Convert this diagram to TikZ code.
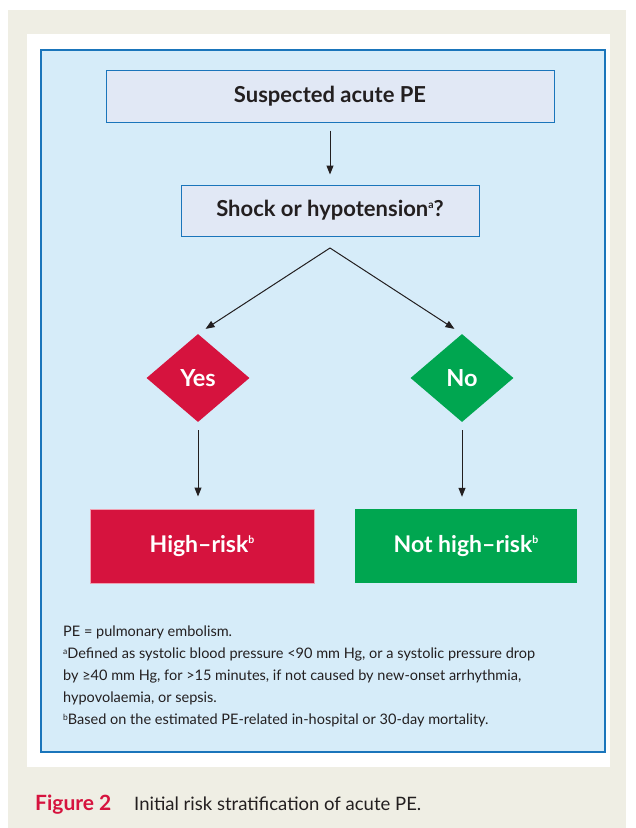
\documentclass[tikz,border=0pt]{standalone}
\usepackage{fontspec}
\setmainfont{Lato}
\usetikzlibrary{shapes.geometric,arrows.meta}
\definecolor{beige}{HTML}{EFEEE4}
\definecolor{panelblue}{HTML}{D6ECF9}
\definecolor{boxfill}{HTML}{E1E8F5}
\definecolor{edgeblue}{HTML}{1A75BB}
\definecolor{riskred}{HTML}{D6133E}
\definecolor{riskgreen}{HTML}{00A650}
\definecolor{ink}{HTML}{231F20}
\newcommand{\bigsup}[1]{\raisebox{0.4em}{\fontsize{10.5}{11}\selectfont #1}}
\newcommand{\smallsup}[1]{\raisebox{0.33em}{\fontsize{8.5}{9}\selectfont #1}}
\begin{document}
\begin{tikzpicture}[x=1pt,y=-1pt,
  qbox/.style={draw=edgeblue,fill=boxfill,line width=1pt,inner sep=0pt,font=\fontsize{22}{26}\selectfont\bfseries,text=ink},
  choice/.style={diamond,inner sep=0pt,minimum width=103pt,minimum height=88pt,font=\fontsize{23.5}{26}\selectfont\bfseries,text=white},
  outcome/.style={inner sep=0pt,minimum height=74pt,font=\fontsize{23}{26}\selectfont\bfseries,text=white},
  flow/.style={draw=ink,line width=1pt,-{Triangle[length=9pt,width=7pt]}},
  note/.style={font=\fontsize{14.5}{22}\selectfont,text=ink,align=left,inner sep=0pt,anchor=north west}]
\useasboundingbox (0,0) rectangle (636,828);
\fill[white] (0,0) rectangle (636,828);
\fill[beige] (8,10) rectangle (626,828);
\fill[white] (27,34) rectangle (610,767);
\draw[edgeblue,fill=panelblue,line width=2pt] (41,50) rectangle (605,752);

\node[qbox,minimum width=448pt,minimum height=52pt] (susp) at (330,96) {Suspected acute PE};
\node[qbox,minimum width=298pt,minimum height=51pt] (shock) at (330,210.5) {Shock or hypotension\bigsup{a}?};
\coordinate (apex) at (330,248);

\node[choice,fill=riskred] (yes) at (198,378) {Yes};
\node[choice,fill=riskgreen] (no) at (462,378) {No};

\node[outcome,fill=riskred,draw=riskred!40,line width=1pt,minimum width=224pt] (high) at (202,546) {High--risk\bigsup{b}};
\node[outcome,fill=riskgreen,minimum width=222pt] (nothigh) at (466,546) {Not high--risk\bigsup{b}};

\draw[flow,shorten <=8pt,shorten >=10pt] (susp) -- (shock);
\draw[flow,shorten >=9pt] (apex) -- (yes.north);
\draw[flow,shorten >=9pt] (apex) -- (no.north);
\draw[flow,shorten <=8pt,shorten >=12pt] (yes.south) -- (yes.south |- high.north);
\draw[flow,shorten <=8pt,shorten >=12pt] (no.south) -- (no.south |- nothigh.north);

\node[note] (notes) at (63,626) {PE = pulmonary embolism.\\
\smallsup{a}Defined as systolic blood pressure <90 mm Hg, or a systolic pressure drop\\
by ≥40 mm Hg, for >15 minutes, if not caused by new-onset arrhythmia,\\
hypovolaemia, or sepsis.\\
\smallsup{b}Based on the estimated PE-related in-hospital or 30-day mortality.};

\node[anchor=base west,inner sep=0pt,font=\fontsize{21}{22}\selectfont\bfseries,text=riskred] (figlab) at (35,810) {Figure 2};
\node[anchor=base west,inner sep=0pt,font=\fontsize{18.5}{20}\selectfont,text=ink] (figcap) at (134,810) {Initial risk stratification of acute PE.};
\end{tikzpicture}
\end{document}
